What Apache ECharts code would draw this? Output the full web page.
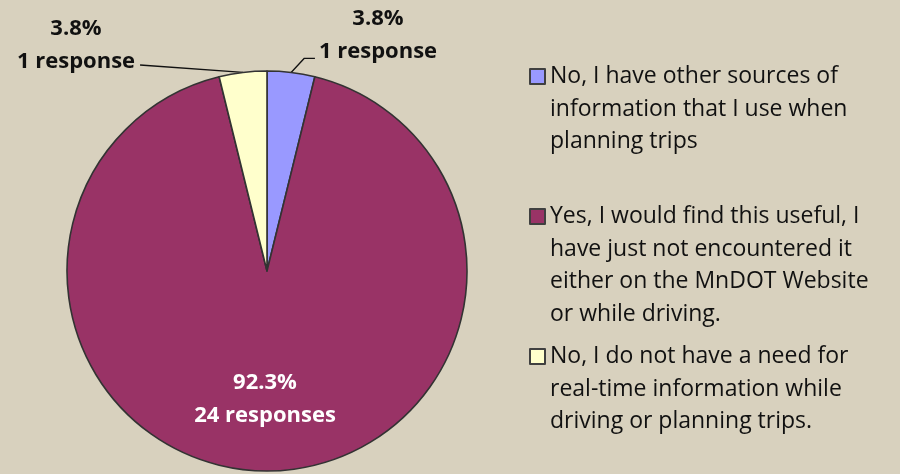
<!DOCTYPE html>
<html>
<head>
<meta charset="utf-8">
<script src="https://cdn.jsdelivr.net/npm/echarts@6/dist/echarts.min.js"></script>
<style>
  html, body { margin: 0; padding: 0; background: #D8D1BE; }
  #chart { width: 900px; height: 474px; }
</style>
</head>
<body>
<div id="chart"></div>
<script>
// survey answers, clockwise from 12 o'clock
var categories = [
  'No, I have other sources of information that I use when planning trips',
  'Yes, I would find this useful, I have just not encountered it either on the MnDOT Website or while driving.',
  'No, I do not have a need for real-time information while driving or planning trips.'
]
var legendLines = [
  'No, I have other sources of\ninformation that I use when\nplanning trips',
  'Yes, I would find this useful, I\nhave just not encountered it\neither on the MnDOT Website\nor while driving.',
  'No, I do not have a need for\nreal-time information while\ndriving or planning trips.'
]
var responses = [1, 24, 1]
var colors = ['#9999FF', '#993366', '#FFFFCC']

var total = responses.reduce(function (a, b) { return a + b }, 0)
var font = 'Open Sans'
var lineH = 32.5
var iconSize = 15
var legendTops = [69, 209, 349]

var chart = echarts.init(document.getElementById('chart'))

// legend text is centred on the icon, so pad the top with empty lines
// to keep the first line level with the square
var legends = categories.map(function (name, i) {
  var n = legendLines[i].split('\n').length
  var pad = new Array(n).join('\n')
  return {
    show: true,
    orient: 'vertical',
    left: 529,
    top: legendTops[i] + iconSize / 2 - (2 * n - 1) * lineH / 2,
    padding: 0,
    itemWidth: iconSize,
    itemHeight: iconSize,
    icon: 'rect',
    selectedMode: false,
    data: [name],
    formatter: function () { return pad + legendLines[i] },
    itemStyle: { borderColor: '#404040', borderWidth: 2 },
    textStyle: {
      fontFamily: font,
      fontSize: 23,
      color: '#111',
      lineHeight: lineH
    }
  }
})

chart.setOption({
  backgroundColor: '#D8D1BE',
  animation: false,
  color: colors,
  legend: legends,
  series: [{
    type: 'pie',
    center: [267, 271],
    radius: 200,
    startAngle: 90,
    clockwise: true,
    avoidLabelOverlap: false,
    emphasis: { disabled: true },
    itemStyle: { borderColor: '#333333', borderWidth: 1.6 },
    label: {
      show: true,
      position: 'outside',
      fontFamily: font,
      fontWeight: 'bold',
      fontSize: 22,
      lineHeight: 33,
      color: '#111',
      formatter: function (p) {
        var pct = (p.value / total * 100).toFixed(1)
        return pct + '%\n' + p.value + (p.value === 1 ? ' response' : ' responses')
      }
    },
    labelLine: {
      show: true,
      length: 15,
      length2: 15,
      lineStyle: { color: '#111', width: 1.3 }
    },
    labelLayout: function (p) {
      var w = p.labelRect.width
      var s = p.labelLinePoints ? p.labelLinePoints[0] : null
      if (p.dataIndex === 0) {
        return {
          x: 378, y: 35, align: 'center', verticalAlign: 'middle',
          labelLinePoints: [s, [s[0] + 13, s[1] - 14], [378 - w / 2 - 4, s[1] - 14]]
        }
      }
      if (p.dataIndex === 2) {
        var e = [76 + w / 2 + 5, 65]
        return {
          x: 76, y: 45, align: 'center', verticalAlign: 'middle',
          labelLinePoints: [s, e, e]
        }
      }
      return { x: 265, y: 399, align: 'center', verticalAlign: 'middle' }
    },
    data: categories.map(function (name, i) {
      var item = { name: name, value: responses[i] }
      if (i === 1) {
        item.label = { position: 'inside', color: '#fff' }
        item.labelLine = { show: false }
      }
      return item
    })
  }]
})
</script>
</body>
</html>
